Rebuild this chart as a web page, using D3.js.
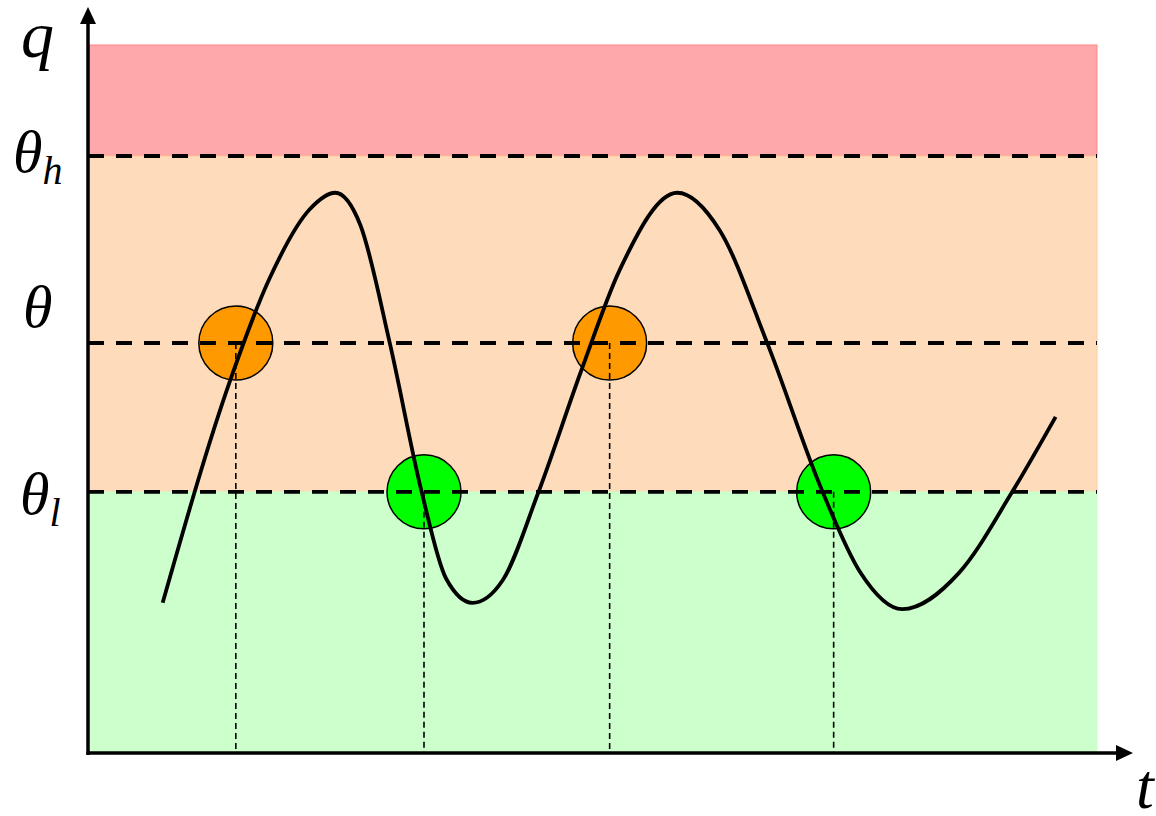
<!DOCTYPE html>
<html>
<head>
<meta charset="utf-8">
<script src="https://cdn.jsdelivr.net/npm/d3@7"></script>
<style>
  html, body { margin: 0; padding: 0; background: #fff; }
  svg { display: block; }
  .lbl { font-family: "Liberation Serif", "Times New Roman", serif; font-style: italic; }
</style>
</head>
<body>
<div id="chart"></div>
<script>
// signal q(t) (t: 0..10, q: 0..10)
const curveT = [0.74, 1.41, 1.80, 2.20, 2.45, 2.70, 2.99, 3.31, 3.55, 3.81, 4.11, 4.46,
  4.89, 5.27, 5.84, 6.26, 6.73, 7.28, 7.65, 8.07, 8.63, 9.16, 9.59];
const curveQ = [2.11, 5.26, 6.70, 7.68, 7.91, 7.45, 5.79, 3.66, 2.45, 2.11, 2.43, 3.66,
  5.40, 6.82, 7.91, 7.38, 5.79, 3.68, 2.55, 2.02, 2.53, 3.68, 4.74];

// thresholds
const thresholdNames = ["θh", "θ", "θl"];
const thresholdValues = [8.43, 5.785, 3.68];

// bands: [from, to]
const bandNames = ["high", "mid", "low"];
const bandFrom = [8.43, 3.68, 0];
const bandTo = [10, 8.43, 3.68];

// crossing events
const eventT = [1.465, 3.33, 5.17, 7.39];
const eventLevel = ["θ", "θl", "θ", "θl"];

const W = 1156, H = 816;
const margin = { left: 88, right: 58, top: 45, bottom: 64 };

const x = d3.scaleLinear().domain([0, 10]).range([margin.left, W - margin.right - 1]);
const y = d3.scaleLinear().domain([0, 10]).range([H - margin.bottom, margin.top]);

const bandFill = { high: "#ffa8ab", mid: "#fddbbb", low: "#ccffcc" };
const bandStroke = { high: "#ff8585", mid: "#ffcc99", low: "#ccffcc" };
const eventFill = { "θ": "#ff9900", "θl": "#00ff00" };

const svg = d3.select("#chart").append("svg")
  .attr("width", W)
  .attr("height", H);

// bands
svg.selectAll(".band")
  .data(bandNames)
  .enter()
  .append("rect")
  .attr("class", "band")
  .attr("x", x(0) + 1)
  .attr("width", x(10) - x(0) - 1)
  .attr("y", (d, i) => y(bandTo[i]))
  .attr("height", (d, i) => y(bandFrom[i]) - y(bandTo[i]))
  .attr("fill", d => bandFill[d])
  .attr("stroke", d => bandStroke[d])
  .attr("stroke-width", 1);

// circles at crossings
const levelOf = name => thresholdValues[thresholdNames.indexOf(name)];
svg.selectAll(".event")
  .data(eventT)
  .enter()
  .append("circle")
  .attr("cx", d => x(d))
  .attr("cy", (d, i) => y(levelOf(eventLevel[i])))
  .attr("r", 37)
  .attr("fill", (d, i) => eventFill[eventLevel[i]])
  .attr("stroke", "#000")
  .attr("stroke-width", 1.5);

// thin vertical drop lines
svg.selectAll(".drop")
  .data(eventT)
  .enter()
  .append("line")
  .attr("x1", d => x(d))
  .attr("x2", d => x(d))
  .attr("y1", (d, i) => y(levelOf(eventLevel[i])))
  .attr("y2", y(0))
  .attr("stroke", "#000")
  .attr("stroke-width", 1.6)
  .attr("stroke-dasharray", "6,4");

// threshold dashed lines
svg.selectAll(".thr")
  .data(thresholdValues)
  .enter()
  .append("line")
  .attr("x1", x(0))
  .attr("x2", x(10))
  .attr("y1", d => y(d))
  .attr("y2", d => y(d))
  .attr("stroke", "#000")
  .attr("stroke-width", 3.8)
  .attr("stroke-dasharray", "16,12");

// signal
const pts = curveT.map((t, i) => [t, curveQ[i]]);
svg.append("path")
  .datum(pts)
  .attr("d", d3.line().x(d => x(d[0])).y(d => y(d[1])).curve(d3.curveMonotoneX))
  .attr("fill", "none")
  .attr("stroke", "#000")
  .attr("stroke-width", 3.8)
  .attr("stroke-linejoin", "round");

// axes with arrows
const x0 = x(0), y0 = y(0) + 1;
svg.append("line")
  .attr("x1", x0).attr("x2", x0)
  .attr("y1", y0 + 2).attr("y2", 22)
  .attr("stroke", "#000").attr("stroke-width", 3.5);
svg.append("path")
  .attr("d", `M${x0},7 L${x0 - 8},24 L${x0 + 8},24 Z`)
  .attr("fill", "#000");
svg.append("line")
  .attr("x1", x0 - 1.5).attr("x2", 1118)
  .attr("y1", y0).attr("y2", y0)
  .attr("stroke", "#000").attr("stroke-width", 3.5);
svg.append("path")
  .attr("d", `M1133,${y0} L1116,${y0 - 8} L1116,${y0 + 8} Z`)
  .attr("fill", "#000");

// axis labels
svg.append("text").attr("class", "lbl")
  .attr("x", 21).attr("y", 57)
  .style("font-size", "66px")
  .text("q");
svg.append("text").attr("class", "lbl")
  .attr("x", 1136).attr("y", 808)
  .style("font-size", "64px")
  .text("t");

// threshold labels
const labelPos = {
  "θh": { x: 13, dy: 16, sub: "h" },
  "θ": { x: 23, dy: -16, sub: "" },
  "θl": { x: 20, dy: 22, sub: "l" }
};
thresholdNames.forEach((n, i) => {
  const p = labelPos[n];
  const t = svg.append("text").attr("class", "lbl")
    .attr("x", p.x)
    .attr("y", y(thresholdValues[i]) + p.dy)
    .style("font-size", "60px")
    .text("θ");
  if (p.sub) {
    t.append("tspan")
      .attr("dy", 12)
      .style("font-size", "40px")
      .text(p.sub);
  }
});
</script>
</body>
</html>
